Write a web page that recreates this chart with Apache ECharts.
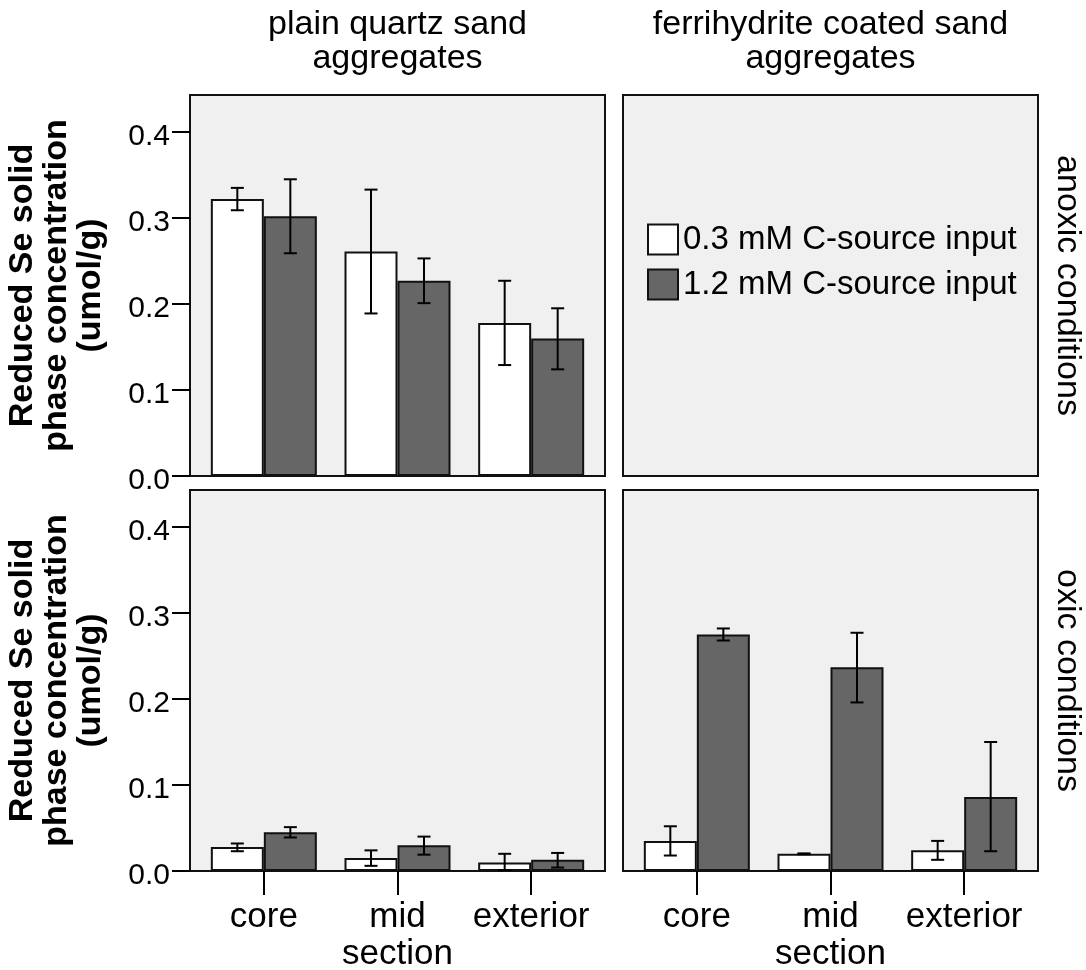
<!DOCTYPE html>
<html>
<head>
<meta charset="utf-8">
<title>Reduced Se solid phase concentration</title>
<script src="https://cdn.jsdelivr.net/npm/echarts@6/dist/echarts.min.js"></script>
<style>
  html, body { margin: 0; padding: 0; background: #fff; }
  #chart { width: 1086px; height: 970px; }
</style>
</head>
<body>
<div id="chart"></div>
<script>
// categories / series / ticks
const categories = ['core', 'mid\nsection', 'exterior']
const sources = ['0.3 mM C-source input', '1.2 mM C-source input']
const yTicks = [0, 0.1, 0.2, 0.3, 0.4]
const yMax = 0.443

// plain quartz sand, anoxic
const quartzAnoxicLow = [0.322, 0.261, 0.178]
const quartzAnoxicLowErr = [[0.309, 0.335], [0.189, 0.333], [0.129, 0.227]]
const quartzAnoxicHigh = [0.302, 0.227, 0.160]
const quartzAnoxicHighErr = [[0.259, 0.345], [0.201, 0.253], [0.124, 0.195]]

// plain quartz sand, oxic
const quartzOxicLow = [0.028, 0.015, 0.010]
const quartzOxicLowErr = [[0.023, 0.032], [0.006, 0.024], [0.001, 0.020]]
const quartzOxicHigh = [0.045, 0.030, 0.013]
const quartzOxicHighErr = [[0.039, 0.051], [0.019, 0.040], [0.004, 0.021]]

// ferrihydrite coated sand, oxic
const ferriOxicLow = [0.035, 0.020, 0.024]
const ferriOxicLowErr = [[0.018, 0.052], [0.0195, 0.0205], [0.013, 0.035]]
const ferriOxicHigh = [0.275, 0.237, 0.086]
const ferriOxicHighErr = [[0.268, 0.282], [0.196, 0.277], [0.023, 0.150]]

const FONT = '"Liberation Sans", Arial, Helvetica, sans-serif'
const BAR_W = 53
const colors = ['#ffffff', '#666666']
const cols = [190, 623]
const rows = [95, 490]
const PW = 415
const PH = 381
const INSET = 7

const panels = [
  { col: 0, row: 0, means: [quartzAnoxicLow, quartzAnoxicHigh], errs: [quartzAnoxicLowErr, quartzAnoxicHighErr] },
  { col: 1, row: 0, means: null },
  { col: 0, row: 1, means: [quartzOxicLow, quartzOxicHigh], errs: [quartzOxicLowErr, quartzOxicHighErr] },
  { col: 1, row: 1, means: [ferriOxicLow, ferriOxicHigh], errs: [ferriOxicLowErr, ferriOxicHighErr] }
]

function renderErrorBar(params, api) {
  const cat = api.value(0)
  const g = api.value(3)
  const x = api.coord([cat, 0])[0] + (g === 0 ? -1 : 1) * BAR_W / 2
  const yLo = api.coord([cat, api.value(1)])[1]
  const yHi = api.coord([cat, api.value(2)])[1]
  const cap = 6.5
  const style = { stroke: '#000', lineWidth: 2 }
  return {
    type: 'group',
    children: [
      { type: 'line', shape: { x1: x, y1: yLo, x2: x, y2: yHi }, style },
      { type: 'line', shape: { x1: x - cap, y1: yHi, x2: x + cap, y2: yHi }, style },
      { type: 'line', shape: { x1: x - cap, y1: yLo, x2: x + cap, y2: yLo }, style }
    ]
  }
}

const grid = []
const xAxis = []
const yAxis = []
const series = []

panels.forEach((p, i) => {
  const outer = 2 * i
  const inner = 2 * i + 1
  const left = cols[p.col]
  const top = rows[p.row]

  grid.push({
    left: left, top: top, width: PW, height: PH,
    show: true, backgroundColor: '#f0f0f0', borderColor: '#111', borderWidth: 2,
    containLabel: false, outerBoundsMode: 'none'
  })
  grid.push({
    left: left + INSET, top: top, width: PW - 2 * INSET, height: PH,
    show: false, containLabel: false, outerBoundsMode: 'none'
  })

  xAxis.push({ gridIndex: outer, type: 'category', data: categories, show: false })
  xAxis.push({
    gridIndex: inner,
    type: 'category',
    data: categories,
    axisLine: { show: false },
    splitLine: { show: false },
    axisTick: { show: p.row === 1, alignWithLabel: true, length: 24, lineStyle: { color: '#000', width: 2 } },
    axisLabel: { show: p.row === 1, fontSize: 35, lineHeight: 37, color: '#000', margin: 28, fontFamily: FONT, interval: 0 }
  })

  yAxis.push({
    gridIndex: outer,
    type: 'value',
    min: 0,
    max: yMax,
    interval: 0.1,
    axisLine: { show: false },
    splitLine: { show: false },
    axisTick: { show: p.col === 0, customValues: yTicks, length: 18, lineStyle: { color: '#000', width: 2 } },
    axisLabel: {
      show: p.col === 0,
      customValues: yTicks,
      formatter: v => '{t|' + v.toFixed(1) + '}',
      rich: { t: { fontSize: 30, color: '#000', fontFamily: FONT, padding: [10, 0, 0, 0] } },
      margin: 20
    }
  })
  yAxis.push({ gridIndex: inner, type: 'value', min: 0, max: yMax, show: false })

  if (!p.means) return
  const errData = []
  p.means.forEach((vals, k) => {
    series.push({
      type: 'bar',
      name: sources[k],
      xAxisIndex: inner,
      yAxisIndex: inner,
      data: vals,
      barWidth: BAR_W,
      barGap: '0%',
      itemStyle: { color: colors[k], borderColor: '#111', borderWidth: 2 },
      emphasis: { disabled: true }
    })
    p.errs[k].forEach((e, c) => errData.push([c, e[0], e[1], k]))
  })
  series.push({
    type: 'custom',
    xAxisIndex: inner,
    yAxisIndex: inner,
    data: errData,
    renderItem: renderErrorBar,
    z: 5,
    silent: true
  })
})

function label(text, x, y, opts) {
  return Object.assign({
    type: 'text',
    x: x,
    y: y,
    silent: true,
    style: Object.assign({
      text: text,
      fill: '#000',
      fontFamily: FONT,
      fontSize: 34,
      align: 'center',
      textAlign: 'center',
      verticalAlign: 'middle',
      textVerticalAlign: 'middle'
    }, opts.style || {})
  }, opts.el || {})
}

const colCenters = cols.map(c => c + PW / 2)
const rowCenters = rows.map(r => r + PH / 2)

const chart = echarts.init(document.getElementById('chart'))
chart.setOption({
  animation: false,
  backgroundColor: '#fff',
  textStyle: { fontFamily: FONT },
  grid: grid,
  xAxis: xAxis,
  yAxis: yAxis,
  legend: {
    data: sources,
    orient: 'vertical',
    left: 642,
    top: 218,
    itemWidth: 30,
    itemHeight: 30,
    itemGap: 12,
    icon: 'rect',
    selectedMode: false,
    itemStyle: { borderColor: '#111', borderWidth: 2 },
    textStyle: { fontSize: 33, color: '#000', fontFamily: FONT }
  },
  graphic: [
    label('plain quartz sand\naggregates', colCenters[0], 8, { style: { verticalAlign: 'top', textVerticalAlign: 'top', lineHeight: 34 } }),
    label('ferrihydrite coated sand\naggregates', colCenters[1], 8, { style: { verticalAlign: 'top', textVerticalAlign: 'top', lineHeight: 34 } }),
    label('Reduced Se solid\nphase concentration\n(umol/g)', 57, rowCenters[0], { style: { fontSize: 34, fontWeight: 'bold', lineHeight: 34 }, el: { rotation: Math.PI / 2 } }),
    label('Reduced Se solid\nphase concentration\n(umol/g)', 57, rowCenters[1], { style: { fontSize: 34, fontWeight: 'bold', lineHeight: 34 }, el: { rotation: Math.PI / 2 } }),
    label('anoxic conditions', 1067, rowCenters[0], { style: { fontSize: 34 }, el: { rotation: -Math.PI / 2 } }),
    label('oxic conditions', 1067, rowCenters[1], { style: { fontSize: 34 }, el: { rotation: -Math.PI / 2 } })
  ],
  series: series
})
</script>
</body>
</html>
